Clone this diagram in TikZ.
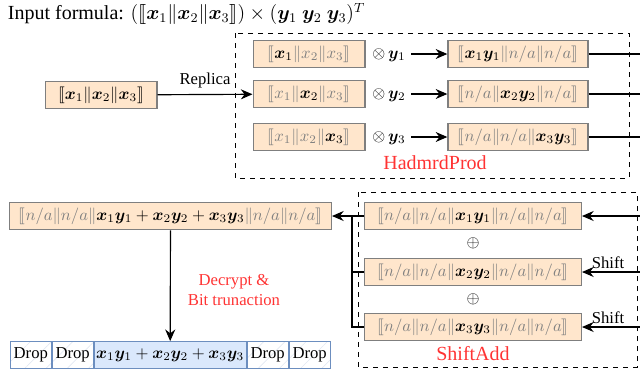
\documentclass[tikz,border=0pt]{standalone}
\usepackage{amsmath,amssymb,stmaryrd,bm}
\usepackage{fontspec}
\setmainfont{Liberation Serif}
\usetikzlibrary{arrows.meta,positioning,patterns.meta}

\definecolor{cellfill}{HTML}{FFE6CC}
\definecolor{celldraw}{HTML}{7F7F7F}
\definecolor{plainfill}{HTML}{DAE8FC}
\definecolor{plaindraw}{HTML}{6C8EBF}
\definecolor{tagred}{HTML}{FF3333}
\newcommand{\gr}[1]{{\color{gray}#1}}
\newcommand{\na}{\gr{n/a}}
\newcommand{\bb}{\gr{\|}}
\newcommand{\lbk}{\gr{\llbracket}}
\newcommand{\rbk}{\gr{\rrbracket}}
\newcommand{\bx}[1]{\bm{x}_{#1}}
\newcommand{\by}[1]{\bm{y}_{#1}}

\begin{document}
\begin{tikzpicture}[x=0.6pt, y=-0.6pt, >={Stealth[length=7pt,width=6pt]},
  cipher/.style={draw=celldraw, line width=0.8pt, fill=cellfill, inner sep=0pt, minimum height=16.5pt},
  plainbox/.style={draw=plaindraw, line width=0.6pt, inner sep=0pt, minimum height=16pt},
  dropbox/.style={plainbox, minimum width=24.6pt,
    pattern={Lines[angle=45,distance=9pt,line width=0.4pt]}, pattern color=plaindraw!20},
  tag/.style={text=tagred, font=\large},
  line/.style={line width=0.7pt}]
\useasboundingbox (0,0) rectangle (640,372);
\coordinate (edge) at (640,0);

% title
\node[anchor=west] (title) at (2,14) {\large Input formula: $(\llbracket \bx1\|\bx2\|\bx3\rrbracket)\times(\by1\ \by2\ \by3)^T$};

% HadmrdProd
\draw[dashed, line width=0.6pt] (235,33) rectangle (629,178);
\node[cipher, minimum width=67pt] (in) at (101,95) {$\llbracket\bx1\|\bx2\|\bx3\rrbracket$};
\node[cipher, minimum width=67pt] (h1) at (309,54) {$\lbk\bx1\bb\gr{x_2}\bb\gr{x_3}\rbk$};
\node[cipher, minimum width=67pt] (h2) at (309,94) {$\lbk\gr{x_1}\bb\bx2\bb\gr{x_3}\rbk$};
\node[cipher, minimum width=67pt] (h3) at (309,137) {$\lbk\gr{x_1}\bb\gr{x_2}\bb\bx3\rbk$};
\node (m1) at (389,55) {$\otimes\,\by1$};
\node (m2) at (389,95) {$\otimes\,\by2$};
\node (m3) at (389,138) {$\otimes\,\by3$};
\node[cipher, minimum width=84pt] (r1) at (518,54) {$\lbk\bx1\by1\bb\na\bb\na\rbk$};
\node[cipher, minimum width=84pt] (r2) at (518,94) {$\lbk\na\bb\bx2\by2\bb\na\rbk$};
\node[cipher, minimum width=84pt] (r3) at (518,137) {$\lbk\na\bb\na\bb\bx3\by3\rbk$};
\node[tag] (hp) at (435,163) {HadmrdProd};

\draw[->, line] (in) -- node[above] {Replica} (h2);
\foreach \i in {1,2,3} {
  \draw[->, line] (m\i.east |- r\i) -- (r\i);
  \draw[line] (r\i.east) -- (r\i.east -| edge);
}

% ShiftAdd
\draw[dashed, line width=0.6pt] (358,192) rectangle (637,367);
\node[cipher, minimum width=130pt] (s1) at (473,216) {$\lbk\na\bb\na\bb\bx1\by1\bb\na\bb\na\rbk$};
\node[cipher, minimum width=130pt] (s2) at (473,272) {$\lbk\na\bb\na\bb\bx2\by2\bb\na\bb\na\rbk$};
\node[cipher, minimum width=130pt] (s3) at (473,327) {$\lbk\na\bb\na\bb\bx3\by3\bb\na\bb\na\rbk$};
\node (p1) at (473,243) {$\oplus$};
\node (p2) at (473,299) {$\oplus$};
\node[tag] (sa) at (473,354) {ShiftAdd};

\draw[<-, line] (s1.east) -- (s1.east -| edge);
\draw[<-, line] (s2.east) -- node[above, pos=0.45, inner sep=1.5pt] {Shift} (s2.east -| edge);
\draw[<-, line] (s3.east) -- node[above, pos=0.45, inner sep=1.5pt] {Shift} (s3.east -| edge);

% result
\node[cipher, minimum width=193pt] (res) at (170.5,216) {$\lbk\na\bb\na\bb\bx1\by1+\bx2\by2+\bx3\by3\bb\na\bb\na\rbk$};
\coordinate (bus) at (352,216);
\draw[->, line] (s1.west) -- (res.east);
\draw[line] (s2.west) -| (bus);
\draw[line] (s3.west) -| (bus);

% plaintext slots
\node[dropbox, anchor=west] (d1) at (10,355) {Drop};
\node[dropbox, right=0pt of d1] (d2) {Drop};
\node[plainbox, fill=plainfill, minimum width=91.2pt, right=0pt of d2] (mid) {$\bx1\by1+\bx2\by2+\bx3\by3$};
\node[dropbox, right=0pt of mid] (d3) {Drop};
\node[dropbox, right=0pt of d3] (d4) {Drop};

\draw[->, line] (res) -- (mid);
\node[tag, align=center, font=\normalsize] (dec) at (234,290) {Decrypt \&\\Bit trunaction};
\end{tikzpicture}
\end{document}
